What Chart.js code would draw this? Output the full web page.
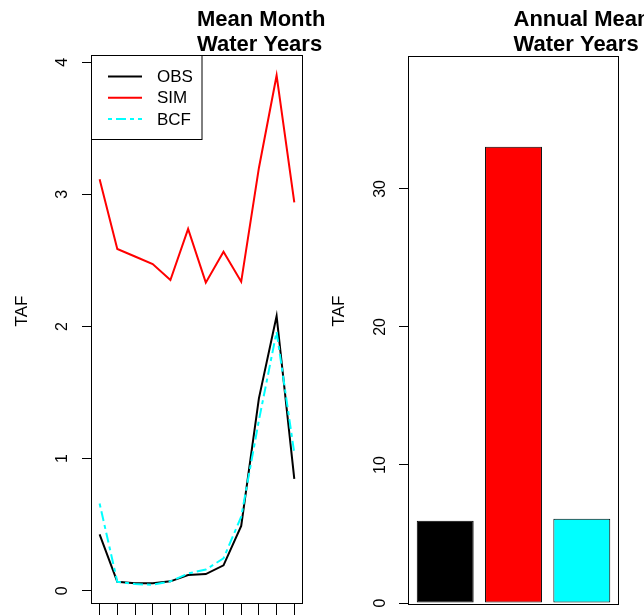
<!DOCTYPE html>
<html><head><meta charset="utf-8">
<script src="https://cdn.jsdelivr.net/npm/chart.js@4/dist/chart.umd.min.js"></script>
<style>
html,body{margin:0;padding:0;background:#fff;}
#wrap{position:relative;width:644px;height:615px;overflow:hidden;background:#fff;}
.c{position:absolute;top:0;height:615px;}
</style></head><body>
<div id="wrap">
<div class="c" style="left:0;width:326px"><canvas id="left"></canvas></div>
<div class="c" style="left:322px;width:322px"><canvas id="right"></canvas></div>
</div>
<script>
// ---- data ----
const months = [1,2,3,4,5,6,7,8,9,10,11,12];
const seriesNames = ['OBS','SIM','BCF'];
const obs = [0.427,0.068,0.056,0.056,0.071,0.119,0.126,0.192,0.49,1.456,2.08,0.846];
const sim = [3.114,2.587,2.53,2.473,2.352,2.738,2.332,2.566,2.339,3.2,3.9,2.94];
const bcf = [0.66,0.068,0.05,0.045,0.071,0.13,0.16,0.245,0.56,1.29,1.96,1.04];
const annualMeans = [5.96,33.06,6.1];
const barPositions = [0.7,1.9,3.1];
const leftTicks = [0,1,2,3,4];
const rightTicks = [0,10,20,30];
const leftTitle = ['Mean Month','Water Years'];
const rightTitle = ['Annual Mean','Water Years'];
const yTitle = 'TAF';

const FONT = '"Liberation Sans", Arial, sans-serif';
Chart.defaults.font.family = FONT;
Chart.defaults.color = '#000';
Chart.defaults.animation = false;

const framePlugin = {
  id: 'frame',
  afterDatasetsDraw(chart) {
    const {ctx, chartArea: a} = chart;
    ctx.save();
    ctx.strokeStyle = '#000';
    ctx.lineWidth = 1;
    ctx.strokeRect(Math.round(a.left) - 0.5, Math.round(a.top) + 0.5,
      Math.round(a.right - a.left) + 1, Math.round(a.bottom - a.top));
    ctx.restore();
  }
};
const textPlugin = {
  id: 'texts',
  afterDraw(chart, args, o) {
    const {ctx, chartArea: a} = chart;
    ctx.save();
    ctx.fillStyle = '#000';
    ctx.font = 'bold 22px ' + FONT;
    ctx.textAlign = 'left';
    ctx.textBaseline = 'alphabetic';
    const cx = (a.left + a.right) / 2;
    o.title.forEach((t, i) => ctx.fillText(t, cx, 26 + i * 25));
    ctx.translate(a.left - 70, 311);
    ctx.rotate(-Math.PI / 2);
    ctx.font = '17px ' + FONT;
    ctx.textAlign = 'center';
    ctx.textBaseline = 'middle';
    ctx.fillText(yTitle, 0, 0);
    ctx.restore();
  }
};
const legendPlugin = {
  id: 'boxLegend',
  afterDraw(chart) {
    const {ctx, chartArea: a} = chart;
    ctx.save();
    ctx.strokeStyle = '#000';
    ctx.lineWidth = 1;
    ctx.fillStyle = '#fff';
    ctx.fillRect(a.left, a.top, 110, 84);
    ctx.strokeRect(a.left - 0.5, a.top + 0.5, 110.5, 84);
    ctx.font = '17px ' + FONT;
    ctx.textBaseline = 'middle';
    chart.data.datasets.forEach((d, i) => {
      const y = a.top + 21.5 + i * 21.2;
      ctx.beginPath();
      ctx.strokeStyle = d.borderColor;
      ctx.lineWidth = d.borderWidth;
      ctx.setLineDash(d.borderDash || []);
      ctx.moveTo(a.left + 16, y);
      ctx.lineTo(a.left + 50, y);
      ctx.stroke();
      ctx.setLineDash([]);
      ctx.fillStyle = '#000';
      ctx.fillText(d.label, a.left + 65, y + 1);
    });
    ctx.restore();
  }
};

const tickFont = {size: 16, family: FONT};

new Chart(document.getElementById('left'), {
  type: 'line',
  data: {
    datasets: [
      {label: seriesNames[0], data: months.map((m, i) => ({x: m, y: obs[i]})), borderColor: '#000', borderWidth: 2, order: 2},
      {label: seriesNames[1], data: months.map((m, i) => ({x: m, y: sim[i]})), borderColor: '#ff0000', borderWidth: 2, order: 1},
      {label: seriesNames[2], data: months.map((m, i) => ({x: m, y: bcf[i]})), borderColor: '#00ffff', borderWidth: 2, borderDash: [4,4,10,4], order: 0}
    ]
  },
  options: {
    responsive: true, maintainAspectRatio: false,
    layout: {padding: {top: 55, right: 24, left: 0, bottom: 0}},
    elements: {point: {radius: 0}, line: {tension: 0, fill: false}},
    plugins: {legend: {display: false}, tooltip: {enabled: false}, texts: {title: leftTitle}},
    scales: {
      x: {
        type: 'linear', min: 0.57, max: 12.435, position: 'bottom',
        afterBuildTicks: s => { s.ticks = months.map(v => ({value: v})); },
        afterFit: s => { s.height = 12; s.paddingLeft = 0; s.paddingRight = 0; },
        ticks: {display: false, autoSkip: false},
        grid: {drawOnChartArea: false, drawTicks: true, tickLength: 12, color: '#000', lineWidth: 1},
        border: {display: false}
      },
      y: {
        type: 'linear', min: -0.093, max: 4.055,
        afterBuildTicks: s => { s.ticks = leftTicks.map(v => ({value: v})); },
        afterFit: s => { s.width = 92; s.paddingTop = 0; s.paddingBottom = 0; },
        ticks: {minRotation: 90, maxRotation: 90, crossAlign: 'center', padding: 14.5, font: tickFont, color: '#000', autoSkip: false},
        grid: {drawOnChartArea: false, drawTicks: true, tickLength: 10, color: '#000', lineWidth: 1},
        border: {display: false}
      }
    }
  },
  plugins: [framePlugin, legendPlugin, textPlugin]
});

new Chart(document.getElementById('right'), {
  type: 'bar',
  data: {
    datasets: [{
      label: 'Annual Mean',
      data: barPositions.map((p, i) => ({x: p, y: annualMeans[i]})),
      backgroundColor: ['#000000', '#ff0000', '#00ffff'],
      borderColor: '#000', borderWidth: 1, borderSkipped: false,
      barPercentage: 1 / 1.2, categoryPercentage: 1
    }]
  },
  options: {
    responsive: true, maintainAspectRatio: false,
    layout: {padding: {top: 55.5, right: 26, left: 0, bottom: 12}},
    plugins: {legend: {display: false}, tooltip: {enabled: false}, texts: {title: rightTitle}},
    scales: {
      x: {type: 'linear', min: 0.064, max: 3.736, offset: false, display: false,
          afterBuildTicks: s => { s.ticks = barPositions.map(v => ({value: v})); },
          afterFit: s => { s.height = 0; }},
      y: {
        type: 'linear', min: 0, max: 39.67,
        afterBuildTicks: s => { s.ticks = rightTicks.map(v => ({value: v})); },
        afterFit: s => { s.width = 87; s.paddingTop = 0; s.paddingBottom = 0; },
        ticks: {minRotation: 90, maxRotation: 90, crossAlign: 'center', padding: 9.6, font: tickFont, color: '#000', autoSkip: false},
        grid: {drawOnChartArea: false, drawTicks: true, tickLength: 10, color: '#000', lineWidth: 1},
        border: {display: false}
      }
    }
  },
  plugins: [framePlugin, textPlugin]
});
</script>
</body></html>
